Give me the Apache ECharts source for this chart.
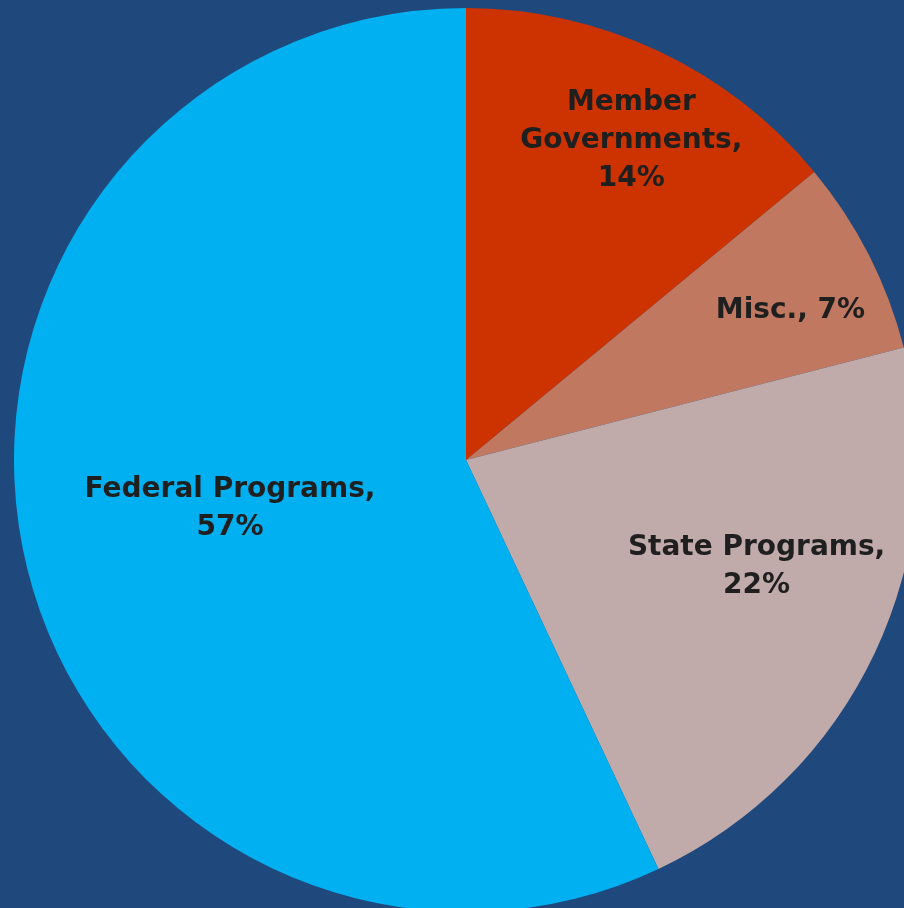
<!DOCTYPE html>
<html>
<head>
<meta charset="utf-8">
<title>Funding sources</title>
<script src="https://cdn.jsdelivr.net/npm/echarts@6/dist/echarts.min.js"></script>
<style>
  html, body { margin: 0; padding: 0; background: #1F497D; }
  #chart { width: 904px; height: 908px; }
</style>
</head>
<body>
<div id="chart"></div>
<script>
var names = ['Member Governments', 'Misc.', 'State Programs', 'Federal Programs'];
var values = [14, 7, 22, 57];
var colors = ['#CC3300', '#C07860', '#C0AAAA', '#00B0F0'];

// label text: how the name wraps in each label
var labelText = ['Member\nGovernments,\n14%', 'Misc., 7%', 'State Programs,\n22%', 'Federal Programs,\n57%'];
// where each label sits: fraction of radius, angle nudge in degrees
var labelSpot = [[0.795, 2.2], [0.79, 2.3], [0.685, -5], [0.533, 1]];

var cx = 466, cy = 460, radius = 452;

var total = values.reduce(function (a, b) { return a + b; }, 0);
var midAngles = [];
var acc = 0;
values.forEach(function (v) {
  midAngles.push((acc + v / 2) / total * 360);
  acc += v;
});

var myChart = echarts.init(document.getElementById('chart'));
var option = {
  backgroundColor: '#1F497D',
  animation: false,
  tooltip: { show: false },
  series: [
    {
      type: 'pie',
      center: [cx, cy],
      radius: radius,
      startAngle: 90,
      clockwise: true,
      avoidLabelOverlap: false,
      emphasis: { disabled: true },
      itemStyle: { borderWidth: 0 },
      label: {
        show: true,
        position: 'inside',
        color: '#1F1F1F',
        fontFamily: 'DejaVu Sans',
        fontWeight: 'bold',
        fontSize: 28,
        lineHeight: 38,
        align: 'center',
        formatter: function (p) { return labelText[p.dataIndex]; }
      },
      labelLine: { show: false },
      labelLayout: function (p) {
        var i = p.dataIndex;
        var a = (midAngles[i] + labelSpot[i][1]) * Math.PI / 180;
        var r = radius * labelSpot[i][0];
        return {
          x: cx + r * Math.sin(a),
          y: cy - r * Math.cos(a),
          align: 'center',
          verticalAlign: 'middle'
        };
      },
      data: names.map(function (n, i) {
        return { name: n, value: values[i], itemStyle: { color: colors[i] } };
      })
    }
  ]
};
myChart.setOption(option);
window.addEventListener('resize', function () { myChart.resize(); });
</script>
</body>
</html>
